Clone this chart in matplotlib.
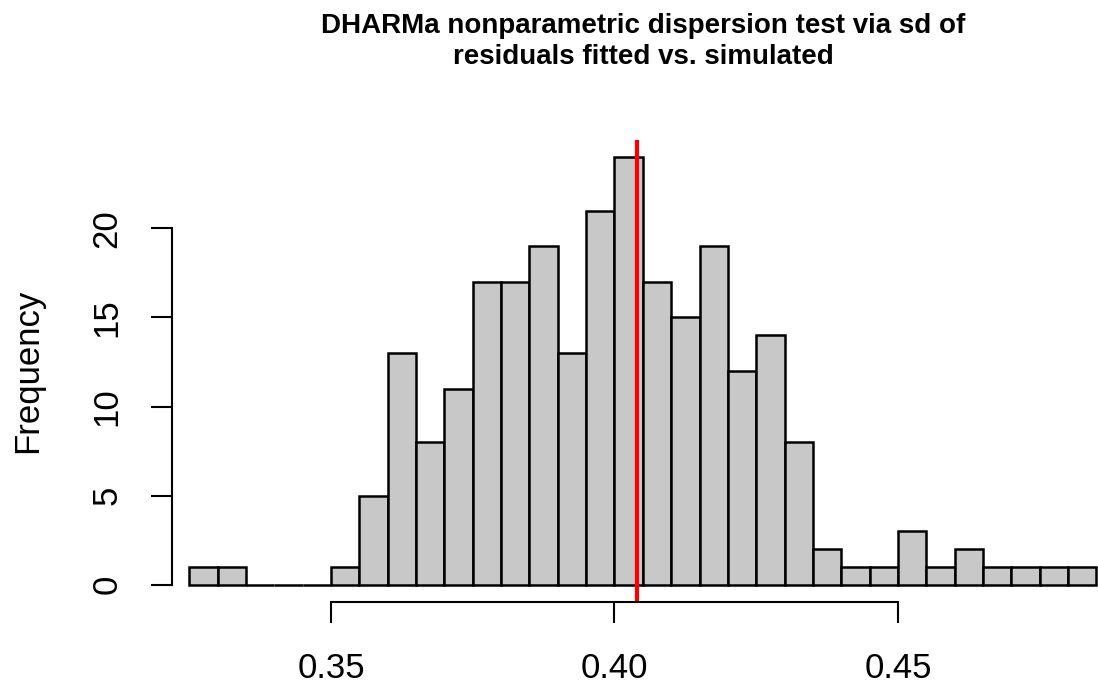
import matplotlib
matplotlib.use("Agg")
import matplotlib.pyplot as plt
import numpy as np

# Histogram data (bin edges and counts)
bin_edges = [0.325, 0.330, 0.335, 0.340, 0.345, 0.350, 0.355, 0.360, 0.365, 0.370,
             0.375, 0.380, 0.385, 0.390, 0.395, 0.400, 0.405, 0.410, 0.415, 0.420,
             0.425, 0.430, 0.435, 0.440, 0.445, 0.450, 0.455, 0.460, 0.465, 0.470,
             0.475, 0.480, 0.485]
counts = [1, 1, 0, 0, 0, 1, 5, 13, 8, 11,
          17, 17, 19, 13, 21, 24, 17, 15, 19, 12,
          14, 8, 2, 1, 1, 3, 1, 2, 1, 1,
          1, 1]
observed = 0.404
x_ticks = [0.35, 0.40, 0.45]
x_tick_labels = ["0.35", "0.40", "0.45"]
y_ticks = [0, 5, 10, 15, 20]
y_tick_labels = ["0", "5", "10", "15", "20"]
title = "DHARMa nonparametric dispersion test via sd of\nresiduals fitted vs. simulated"
ylabel = "Frequency"

plt.rcParams['font.family'] = ['Liberation Sans', 'DejaVu Sans']

W, H = 1098, 684
fig = plt.figure(figsize=(W / 100, H / 100), dpi=100)
left_px, right_px, bottom_px, top_px = 172, 1114, 601.6, 140.2
ax = fig.add_axes([left_px / W, (H - bottom_px) / H,
                   (right_px - left_px) / W, (bottom_px - top_px) / H])

edges = np.array(bin_edges)
widths = np.diff(edges)
ax.bar(edges[:-1], counts, width=widths, align='edge', color='#C8C8C8',
       edgecolor='black', linewidth=1.8, clip_on=False)
ax.axvline(observed, color='#FF0000', linewidth=3)

x_lo, x_hi = 0.321958, 0.48810
ax.set_xlim(x_lo, x_hi)
ax.set_ylim(-0.96, 24.96)

for s in ['top', 'right']:
    ax.spines[s].set_visible(False)
ax.spines['left'].set_bounds(0, 20)
ax.spines['bottom'].set_bounds(0.35, 0.45)
ax.spines['left'].set_linewidth(1.5)
ax.spines['bottom'].set_linewidth(1.5)

ax.set_xticks(x_ticks)
ax.set_xticklabels(x_tick_labels)
ax.set_yticks(y_ticks)
ax.set_yticklabels(y_tick_labels, rotation=90, va='center')
ax.tick_params(axis='both', length=15, width=1.5, labelsize=25)
ax.tick_params(axis='x', pad=21)
ax.tick_params(axis='y', pad=20)

ax.set_ylabel(ylabel, fontsize=25, labelpad=33)
fig.text((left_px + right_px) / 2 / W, 1 - 41.5 / H, title, ha='center', va='center',
         fontsize=20, fontweight='bold', linespacing=1.22)

fig.savefig("out.png", dpi=100)
